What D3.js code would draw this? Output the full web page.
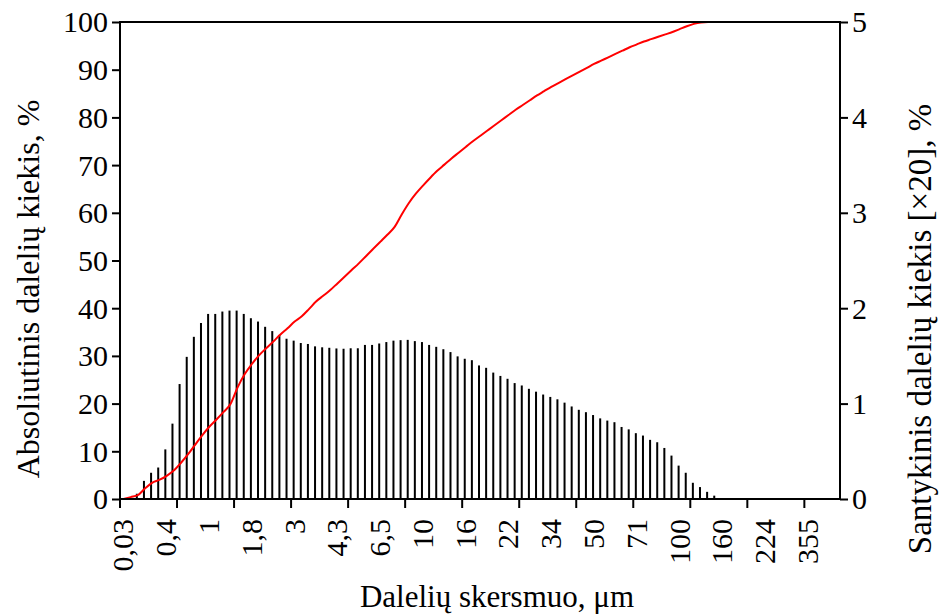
<!DOCTYPE html>
<html><head><meta charset="utf-8">
<script src="https://cdn.jsdelivr.net/npm/d3@7"></script>
<style>body{margin:0;background:#fff}svg{display:block}text{font-family:"Liberation Serif","Times New Roman",serif;fill:#000}</style>
</head><body><svg id="c" width="939" height="614"></svg>
<script>
// Relative amount per size class (right axis, [x20] %)
const relativeAmount = [0,0,0.055,0.19,0.275,0.33,0.52,0.79,1.205,1.49,1.70,1.845,1.94,1.94,1.965,1.975,1.975,1.94,1.895,1.86,1.805,1.76,1.72,1.68,1.66,1.635,1.625,1.60,1.59,1.585,1.578,1.575,1.58,1.58,1.615,1.615,1.63,1.645,1.66,1.665,1.668,1.655,1.645,1.615,1.595,1.57,1.54,1.495,1.47,1.455,1.40,1.375,1.325,1.29,1.26,1.215,1.19,1.155,1.125,1.095,1.07,1.045,1.01,0.97,0.935,0.91,0.88,0.845,0.822,0.805,0.755,0.73,0.69,0.665,0.62,0.595,0.535,0.455,0.35,0.275,0.17,0.125,0.075,0.035,0,0,0,0,0,0,0,0,0,0,0,0,0,0,0,0,0];
// Cumulative (absolute) amount per size class (left axis, %)
const cumulativeAmount = [0,0.4,0.8,2.2,3.4,4.0,4.8,5.9,7.5,9.3,11.3,13.3,15.1,16.6,18.2,19.9,23.4,26.2,28.3,30.1,31.6,33.0,34.5,35.8,37.2,38.3,39.8,41.4,42.6,43.8,45.2,46.6,48.0,49.4,50.9,52.4,53.9,55.4,57.0,59.6,62.0,64.0,65.7,67.3,68.8,70.1,71.4,72.6,73.8,75.0,76.1,77.2,78.3,79.4,80.5,81.6,82.6,83.6,84.6,85.5,86.4,87.2,88.0,88.8,89.6,90.4,91.2,91.9,92.6,93.3,94.0,94.7,95.3,95.9,96.4,96.9,97.4,97.9,98.5,99.1,99.6,99.9,100,100,100,100,100,100,100,100,100,100,100,100,100,100,100,100,100,100,100];
// Size-class labels (µm), shown every 6th class
const sizeLabels = ["0,03","0,4","1","1,8","3","4,3","6,5","10","16","22","34","50","71","100","160","224","355"];
const labelEvery = 6, majorTickEvery = 8;
const leftTicks = [0,10,20,30,40,50,60,70,80,90,100];
const rightTicks = [0,1,2,3,4,5];

const svg = d3.select("#c");
const L=120, R=840, T=22, B=499;
const classes = relativeAmount.map((d,i)=>i);
const x = d3.scaleBand().domain(classes).range([L,R]).padding(0);
const bw = x.bandwidth();
const yL = d3.scaleLinear().domain([0,100]).range([B,T]);
const yR = d3.scaleLinear().domain([0,5]).range([B,T]);

// bars
svg.append("g").selectAll("rect").data(relativeAmount).join("rect")
  .attr("x",(d,i)=>x(i)+bw/2-2).attr("width",2)
  .attr("y",d=>yR(d)).attr("height",d=>B-yR(d)).attr("fill","#000");

// cumulative line
svg.append("path").datum(cumulativeAmount)
  .attr("fill","none").attr("stroke","#ff0000").attr("stroke-width",2)
  .attr("d",d3.line().x((d,i)=>x(i)+bw/2).y(d=>yL(d)).curve(d3.curveMonotoneX));

// frame
const ax = svg.append("g").attr("stroke","#000").attr("stroke-width",2);
ax.append("line").attr("x1",L).attr("x2",R).attr("y1",T).attr("y2",T);
ax.append("line").attr("x1",L).attr("x2",R).attr("y1",B).attr("y2",B);
ax.append("line").attr("x1",L).attr("x2",L).attr("y1",T-1).attr("y2",B+1);
ax.append("line").attr("x1",R).attr("x2",R).attr("y1",T-1).attr("y2",B+1);

// left axis
const gl = svg.append("g").attr("transform",`translate(${L},0)`)
  .call(d3.axisLeft(yL).tickValues(leftTicks).tickSize(8).tickPadding(4).tickFormat(d3.format("d")));
gl.select(".domain").remove();
gl.selectAll(".tick line").attr("stroke","#000").attr("stroke-width",2);
gl.selectAll(".tick text").attr("font-size",30).attr("font-family","Liberation Serif").attr("dy","0.33em");

// right axis
const gr = svg.append("g").attr("transform",`translate(${R},0)`)
  .call(d3.axisRight(yR).tickValues(rightTicks).tickSize(8).tickPadding(4).tickFormat(d3.format("d")));
gr.select(".domain").remove();
gr.selectAll(".tick line").attr("stroke","#000").attr("stroke-width",2);
gr.selectAll(".tick text").attr("font-size",30).attr("font-family","Liberation Serif").attr("dy","0.33em");

// bottom ticks
const majors = classes.filter(i=>i%majorTickEvery===0);
svg.append("g").selectAll("line").data(majors).join("line")
  .attr("x1",i=>x(i)).attr("x2",i=>x(i)).attr("y1",B).attr("y2",B+9)
  .attr("stroke","#000").attr("stroke-width",2);
svg.append("g").selectAll("text").data(sizeLabels).join("text")
  .attr("transform",(d,k)=>`translate(${x(k*labelEvery)+bw/2},${B+20}) rotate(-90)`)
  .attr("text-anchor","end").attr("dy","0.33em").attr("font-size",30).text(d=>d);

// titles
svg.append("text").attr("x",497).attr("y",607).attr("text-anchor","middle").attr("font-size",31).text("Dalelių skersmuo, μm");
svg.append("text").attr("transform","translate(39,289) rotate(-90)").attr("text-anchor","middle").attr("font-size",32).text("Absoliutinis dalelių kiekis, %");
svg.append("text").attr("transform","translate(931,329) rotate(-90)").attr("text-anchor","middle").attr("font-size",33).text("Santykinis dalelių kiekis [×20], %");
</script></body></html>
